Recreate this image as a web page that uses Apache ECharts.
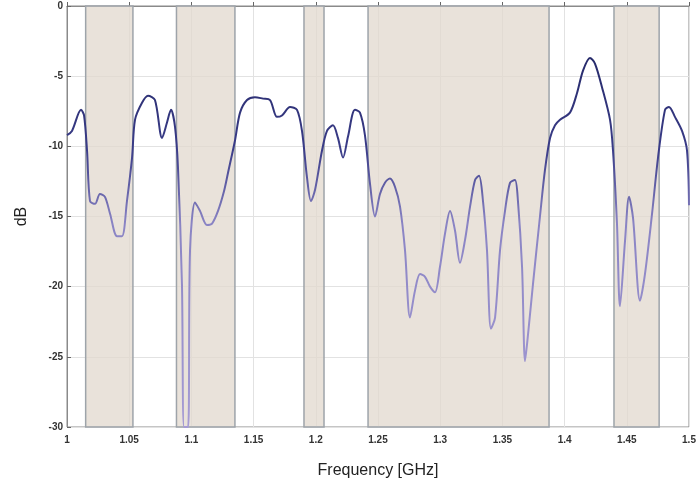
<!DOCTYPE html>
<html>
<head>
<meta charset="utf-8">
<script src="https://cdn.jsdelivr.net/npm/echarts@6/dist/echarts.min.js"></script>
<style>html,body{margin:0;padding:0;background:#fff}#c{width:700px;height:484px}</style>
</head>
<body>
<div id="c"></div>
<script>
var freq = [1.0000,1.0040,1.0113,1.0137,1.0161,1.0185,1.0225,1.0265,1.0305,1.0346,1.0402,1.0442,1.0482,1.0523,1.0547,1.0603,1.0651,1.0707,1.0764,1.0804,1.0836,1.0868,1.0892,1.0924,1.0941,1.0973,1.0989,1.1029,1.1069,1.1125,1.1166,1.1214,1.1262,1.1294,1.1350,1.1391,1.1447,1.1511,1.1576,1.1632,1.1688,1.1728,1.1793,1.1849,1.1889,1.1929,1.1961,1.1994,1.2050,1.2090,1.2138,1.2178,1.2219,1.2259,1.2315,1.2355,1.2395,1.2436,1.2476,1.2516,1.2556,1.2596,1.2637,1.2677,1.2717,1.2757,1.2797,1.2838,1.2878,1.2918,1.2958,1.2998,1.3039,1.3079,1.3119,1.3159,1.3199,1.3240,1.3280,1.3312,1.3344,1.3376,1.3408,1.3441,1.3481,1.3521,1.3561,1.3601,1.3625,1.3658,1.3682,1.3706,1.3746,1.3802,1.3842,1.3883,1.3923,1.3963,1.4043,1.4100,1.4148,1.4204,1.4244,1.4301,1.4365,1.4389,1.4421,1.4445,1.4486,1.4518,1.4550,1.4606,1.4646,1.4703,1.4751,1.4807,1.4839,1.4887,1.4944,1.4984,1.5000];
var dB = [-9.2,-8.9,-7.4,-7.8,-10.3,-13.9,-14.1,-13.4,-13.6,-14.8,-16.4,-16.4,-13.9,-10.8,-8.1,-6.9,-6.4,-6.7,-9.4,-8.3,-7.4,-8.6,-11.5,-19.8,-30,-30,-17.4,-14.0,-14.6,-15.6,-15.5,-14.6,-13.2,-11.9,-9.6,-7.6,-6.7,-6.5,-6.6,-6.7,-7.9,-7.8,-7.2,-7.4,-8.9,-12.2,-13.9,-13.1,-10.3,-8.9,-8.5,-9.4,-10.8,-9.3,-7.4,-7.6,-9.2,-12.7,-15.0,-13.4,-12.6,-12.3,-12.9,-14.3,-17.4,-22.2,-20.3,-19.1,-19.3,-20.0,-20.4,-18.6,-16.2,-14.6,-16.0,-18.3,-16.7,-14.3,-12.4,-12.1,-13.9,-17.4,-23.0,-22.2,-17.4,-14.6,-12.6,-12.4,-13.9,-18.6,-25.3,-23.4,-19.8,-15.0,-11.7,-9.4,-8.5,-8.1,-7.6,-6.2,-4.6,-3.7,-4.1,-5.8,-8.1,-10.3,-15.5,-21.4,-16.7,-13.6,-15.1,-21.0,-19.1,-14.8,-10.8,-7.4,-7.2,-7.9,-8.9,-10.3,-14.2];
var bandStart = [1.015, 1.088, 1.1905, 1.242, 1.4397];
var bandEnd   = [1.053, 1.135, 1.2066, 1.3875, 1.476];
var xTicks = [1,1.05,1.1,1.15,1.2,1.25,1.3,1.35,1.4,1.45,1.5];
var yTicks = [0,-5,-10,-15,-20,-25,-30];

var chart = echarts.init(document.getElementById('c'));
var pts = freq.map(function(f,i){return [f,dB[i]];});
var bands = bandStart.map(function(s,i){return [{xAxis:s},{xAxis:bandEnd[i]}];});
var labelFont = {fontFamily:'Liberation Sans', fontSize:10, color:'#333', fontWeight:'bold'};
chart.setOption({
  animation:false,
  grid:{left:67,right:11,top:6,bottom:57,show:true,borderColor:'#8a8a8a',borderWidth:1,backgroundColor:'#fff'},
  xAxis:{type:'value',min:1,max:1.5,interval:0.05,
    name:'Frequency [GHz]',nameLocation:'middle',nameGap:36,
    nameTextStyle:{fontFamily:'Liberation Sans',fontSize:16,color:'#222'},
    axisLine:{show:true,lineStyle:{color:'#8a8a8a'}},
    axisTick:{show:true,inside:true,length:4,lineStyle:{color:'#666'}},
    axisLabel:Object.assign({margin:8,formatter:function(v){return String(+v.toFixed(2));}},labelFont),
    splitLine:{show:true,lineStyle:{color:'#e2e2e2',width:1}}},
  yAxis:{type:'value',min:-30,max:0,interval:5,
    name:'dB',nameLocation:'middle',nameGap:37,nameRotate:90,
    nameTextStyle:{fontFamily:'Liberation Sans',fontSize:16,color:'#222'},
    axisLine:{show:true,lineStyle:{color:'#8a8a8a'}},
    axisTick:{show:true,inside:true,length:4,lineStyle:{color:'#666'}},
    axisLabel:Object.assign({margin:4},labelFont),
    splitLine:{show:true,lineStyle:{color:'#e2e2e2',width:1}}},
  series:[{
    type:'line',data:pts,showSymbol:false,smooth:0.3,
    lineStyle:{width:2,color:new echarts.graphic.LinearGradient(0,0,0,1,[
      {offset:0,color:'#262a6a'},{offset:0.25,color:'#3a3c88'},{offset:0.45,color:'#8a84c4'},{offset:1,color:'#a69cd4'}])},
    markArea:{silent:true,itemStyle:{color:'rgba(226,216,206,0.75)',borderColor:'#9ea4aa',borderWidth:1.5},data:bands}
  }]
});
</script>
</body>
</html>
